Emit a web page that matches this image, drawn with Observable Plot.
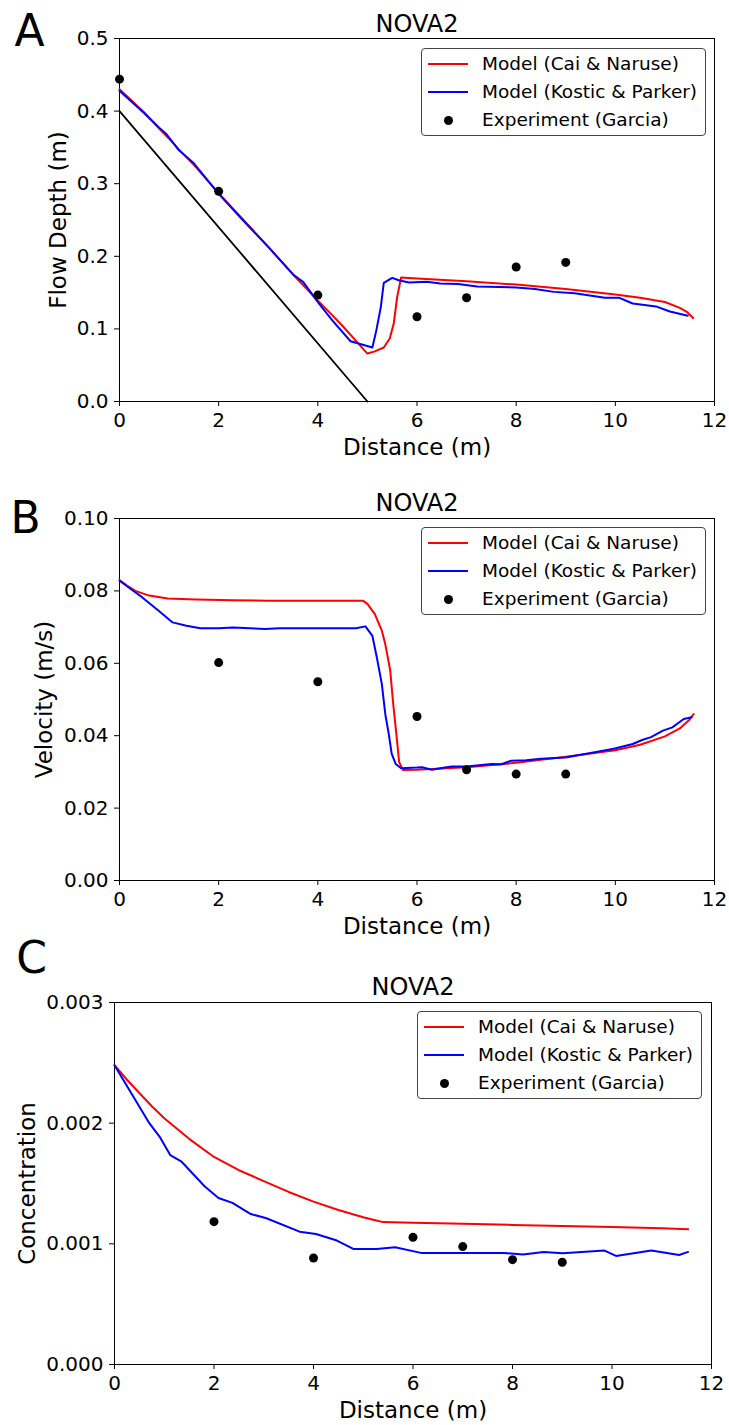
<!DOCTYPE html>
<html>
<head>
<meta charset="utf-8">
<script src="https://cdn.jsdelivr.net/npm/d3@7"></script>
<script src="https://cdn.jsdelivr.net/npm/@observablehq/plot@0.6"></script>
<style>
  html, body { margin: 0; padding: 0; background: #fff; }
  #fig { position: relative; width: 729px; height: 1425px; font-family: "DejaVu Sans", sans-serif; color: #000; }
  .panel { position: absolute; left: 0; width: 729px; }
  .panel svg { display: block; overflow: visible; }
  .legend { position: absolute; width: 285px; height: 88px; box-sizing: border-box; border: 1px solid #444; border-radius: 4px; background: rgba(255,255,255,0.9); }
  .sw { position: absolute; left: 6px; width: 40px; height: 2px; }
  .dt { position: absolute; left: 21.5px; width: 9px; height: 9px; border-radius: 50%; background: #000; }
  .lt { position: absolute; left: 60px; font-size: 18.5px; line-height: 22px; white-space: nowrap; }
</style>
</head>
<body>
<div id="fig"></div>
<script>
// ---------- shared ----------
const xTicks = [0, 2, 4, 6, 8, 10, 12];
const panelTitle = "NOVA2";
const xAxisLabel = "Distance (m)";
const legendLabels = ["Model (Cai & Naruse)", "Model (Kostic & Parker)", "Experiment (Garcia)"];

// ---------- Panel A : flow depth ----------
const expX = [0, 2, 4, 6, 7, 8, 9];
const depthExp = [0.444, 0.2895, 0.1466, 0.1167, 0.1429, 0.1852, 0.1916];
const bedX = [0, 5];
const bedY = [0.4, 0.0];
const caiDepthX = [0, 0.5, 0.8, 1.0, 1.2, 1.5, 2.0, 2.5, 3.0, 3.5, 4.0, 4.26, 4.5, 5.0, 5.15, 5.33, 5.45, 5.53, 5.60, 5.68, 6.0, 7.0, 8.0, 9.0, 10.0, 10.5, 11.0, 11.3, 11.45, 11.57];
const caiDepthY = [0.430, 0.398, 0.376, 0.362, 0.347, 0.326, 0.287, 0.250, 0.213, 0.175, 0.139, 0.121, 0.104, 0.066, 0.069, 0.0744, 0.0868, 0.107, 0.144, 0.1708, 0.1695, 0.1655, 0.161, 0.155, 0.1475, 0.143, 0.137, 0.129, 0.123, 0.115];
const kosDepthX = [0, 0.5, 0.8, 0.95, 1.2, 1.5, 2.0, 2.5, 3.0, 3.5, 3.7, 4.0, 4.3, 4.66, 5.1, 5.18, 5.27, 5.33, 5.5, 5.63, 5.84, 6.2, 6.47, 6.83, 7.21, 8.0, 8.38, 8.76, 9.18, 9.79, 10.07, 10.35, 10.82, 11.1, 11.46];
const kosDepthY = [0.428, 0.397, 0.377, 0.368, 0.346, 0.328, 0.286, 0.249, 0.213, 0.175, 0.165, 0.137, 0.111, 0.083, 0.0744, 0.098, 0.130, 0.1634, 0.1703, 0.167, 0.164, 0.1648, 0.1625, 0.162, 0.1585, 0.157, 0.155, 0.151, 0.149, 0.143, 0.143, 0.135, 0.131, 0.124, 0.118];
const depthTicks = [0, 0.1, 0.2, 0.3, 0.4, 0.5];

// ---------- Panel B : velocity ----------
const velExpX = [2, 4, 6, 7, 8, 9];
const velExp = [0.0602, 0.0549, 0.0453, 0.0306, 0.0294, 0.0294];
const caiVelX = [0, 0.15, 0.32, 0.6, 0.97, 1.54, 2.29, 3.0, 4.0, 4.91, 5.0, 5.15, 5.29, 5.36, 5.46, 5.52, 5.59, 5.64, 5.72, 6.0, 7.0, 8.0, 9.0, 10.0, 10.5, 11.0, 11.3, 11.5, 11.58];
const caiVelY = [0.083, 0.0815, 0.0800, 0.0787, 0.0779, 0.0776, 0.0774, 0.0773, 0.0773, 0.0773, 0.0764, 0.0736, 0.069, 0.0653, 0.058, 0.0488, 0.0396, 0.0327, 0.0305, 0.0306, 0.0313, 0.0325, 0.0342, 0.036, 0.0375, 0.0398, 0.042, 0.0445, 0.046];
const kosVelX = [0, 0.46, 0.79, 1.07, 1.35, 1.63, 2.0, 2.29, 2.94, 3.22, 4.77, 4.96, 5.1, 5.19, 5.29, 5.36, 5.43, 5.49, 5.57, 5.68, 6.0, 6.1, 6.3, 6.5, 6.7, 7.0, 7.3, 7.5, 7.7, 7.9, 8.2, 8.5, 9.0, 9.5, 9.97, 10.35, 10.54, 10.72, 10.96, 11.15, 11.38, 11.54];
const kosVelY = [0.0828, 0.0782, 0.0745, 0.0713, 0.0704, 0.0697, 0.0697, 0.0699, 0.0695, 0.0697, 0.0697, 0.0702, 0.0676, 0.0616, 0.0543, 0.046, 0.0405, 0.035, 0.0322, 0.031, 0.0312, 0.0313, 0.0306, 0.0311, 0.0315, 0.0315, 0.0319, 0.0322, 0.0321, 0.0331, 0.0332, 0.0336, 0.034, 0.0352, 0.0364, 0.0377, 0.0388, 0.0396, 0.0414, 0.0423, 0.0446, 0.0451];
const velTicks = [0, 0.02, 0.04, 0.06, 0.08, 0.10];

// ---------- Panel C : concentration ----------
const concExpX = [2, 4, 6, 7, 8, 9];
const concExp = [0.001184, 0.000883, 0.001054, 0.000977, 0.000869, 0.000847];
const caiConcX = [0, 0.25, 0.5, 0.75, 1.0, 1.5, 2.0, 2.5, 3.0, 3.5, 4.0, 4.5, 5.0, 5.2, 5.4, 6.0, 7.0, 8.0, 9.0, 10.0, 11.0, 11.53];
const caiConcY = [0.00248, 0.00236, 0.00225, 0.00214, 0.00204, 0.00187, 0.00172, 0.00161, 0.00152, 0.00143, 0.00135, 0.00128, 0.00122, 0.00120, 0.00118, 0.001175, 0.001167, 0.001157, 0.001148, 0.00114, 0.00113, 0.00112];
const kosConcX = [0, 0.35, 0.70, 0.92, 1.12, 1.34, 1.81, 2.09, 2.37, 2.74, 3.04, 3.72, 4.05, 4.47, 4.8, 5.27, 5.64, 6.16, 7.84, 8.21, 8.63, 9.01, 9.85, 10.08, 10.79, 11.35, 11.53];
const kosConcY = [0.00248, 0.00224, 0.00200, 0.00188, 0.001736, 0.001684, 0.001477, 0.00138, 0.001339, 0.001247, 0.001214, 0.001101, 0.001082, 0.001027, 0.000958, 0.000958, 0.000971, 0.000925, 0.000925, 0.000911, 0.000933, 0.000922, 0.000944, 0.0009, 0.000944, 0.000908, 0.000933];
const concTicks = [0, 0.001, 0.002, 0.003];

// ---------- builder ----------
const pts = (xs, ys) => xs.map((x, i) => ({x, y: ys[i]}));

function makePanel(cfg) {
  const marks = [Plot.frame({stroke: "#000", strokeWidth: 1})];
  if (cfg.bed) marks.push(Plot.line(pts(cfg.bed[0], cfg.bed[1]), {x: "x", y: "y", stroke: "#000", strokeWidth: 1.8}));
  marks.push(Plot.line(pts(cfg.cai[0], cfg.cai[1]), {x: "x", y: "y", stroke: "#ff0000", strokeWidth: 2}));
  marks.push(Plot.line(pts(cfg.kos[0], cfg.kos[1]), {x: "x", y: "y", stroke: "#0000ff", strokeWidth: 2}));
  marks.push(Plot.dot(pts(cfg.exp[0], cfg.exp[1]), {x: "x", y: "y", r: 4.5, fill: "#000", stroke: "none"}));
  marks.push(Plot.axisX({ticks: xTicks, tickSize: 5, tickPadding: 6, fontSize: 20, label: null, tickFormat: d => String(d)}));
  marks.push(Plot.axisY({ticks: cfg.yTicks, tickSize: 5, tickPadding: 6, fontSize: 20, label: null, tickFormat: cfg.yFmt}));
  marks.push(Plot.text([xAxisLabel], {text: d => d, frameAnchor: "bottom", dy: 46, fontSize: 23, lineAnchor: "middle", textAnchor: "middle"}));
  marks.push(Plot.text([cfg.yLabel], {text: d => d, frameAnchor: "left", dx: cfg.yLabelDx, rotate: -90, fontSize: 23, lineAnchor: "middle", textAnchor: "middle"}));
  marks.push(Plot.text([panelTitle], {text: d => d, frameAnchor: "top", dy: cfg.titleDy, fontSize: 24, lineAnchor: "bottom", textAnchor: "middle"}));
  marks.push(Plot.text([cfg.letter], {text: d => d, frameAnchor: "top-left", dx: cfg.letterDx, dy: cfg.letterDy, fontSize: 44, lineAnchor: "bottom", textAnchor: "middle"}));

  const chart = Plot.plot({
    width: 729,
    height: cfg.height,
    marginTop: cfg.mt, marginBottom: cfg.mb, marginLeft: cfg.ml, marginRight: cfg.mr,
    x: {domain: [0, 12]},
    y: {domain: cfg.yDomain},
    style: {fontFamily: '"DejaVu Sans", sans-serif', color: "#000", background: "transparent", overflow: "visible"},
    marks
  });

  const wrap = document.createElement("div");
  wrap.className = "panel";
  wrap.style.top = cfg.top + "px";
  wrap.style.height = cfg.height + "px";
  wrap.appendChild(chart);

  // legend
  const lg = document.createElement("div");
  lg.className = "legend";
  lg.style.left = (cfg.legend[0]) + "px";
  lg.style.top = (cfg.legend[1] - cfg.top) + "px";
  const rowsY = [15, 43, 71];
  const kinds = [{c: "#ff0000"}, {c: "#0000ff"}, {dot: true}];
  legendLabels.forEach((lab, i) => {
    const yy = rowsY[i];
    if (kinds[i].dot) {
      const d = document.createElement("div");
      d.className = "dt"; d.style.top = (yy - 4.5) + "px";
      lg.appendChild(d);
    } else {
      const s = document.createElement("div");
      s.className = "sw"; s.style.top = (yy - 1) + "px"; s.style.background = kinds[i].c;
      lg.appendChild(s);
    }
    const t = document.createElement("div");
    t.className = "lt"; t.style.top = (yy - 11) + "px"; t.textContent = lab;
    lg.appendChild(t);
  });
  wrap.appendChild(lg);
  document.getElementById("fig").appendChild(wrap);
}

makePanel({
  top: 0, height: 470, mt: 38, mb: 69, ml: 119, mr: 15,
  yDomain: [0, 0.5], yTicks: depthTicks, yFmt: d3.format(".1f"),
  yLabel: "Flow Depth (m)", yLabelDx: -61, titleDy: -7, letter: "A", letterDx: -90, letterDy: 7,
  bed: [bedX, bedY], cai: [caiDepthX, caiDepthY], kos: [kosDepthX, kosDepthY], exp: [expX, depthExp],
  legend: [421, 48]
});

makePanel({
  top: 470, height: 470, mt: 48, mb: 60, ml: 119, mr: 15,
  yDomain: [0, 0.10], yTicks: velTicks, yFmt: d3.format(".2f"),
  yLabel: "Velocity (m/s)", yLabelDx: -75, titleDy: -8, letter: "B", letterDx: -94, letterDy: 14,
  cai: [caiVelX, caiVelY], kos: [kosVelX, kosVelY], exp: [velExpX, velExp],
  legend: [421, 527]
});

makePanel({
  top: 940, height: 485, mt: 62, mb: 61, ml: 114, mr: 18,
  yDomain: [0, 0.003], yTicks: concTicks, yFmt: d3.format(".3f"),
  yLabel: "Concentration", yLabelDx: -87, titleDy: -8, letter: "C", letterDx: -83, letterDy: -30,
  cai: [caiConcX, caiConcY], kos: [kosConcX, kosConcY], exp: [concExpX, concExp],
  legend: [417, 1011]
});
</script>
</body>
</html>
